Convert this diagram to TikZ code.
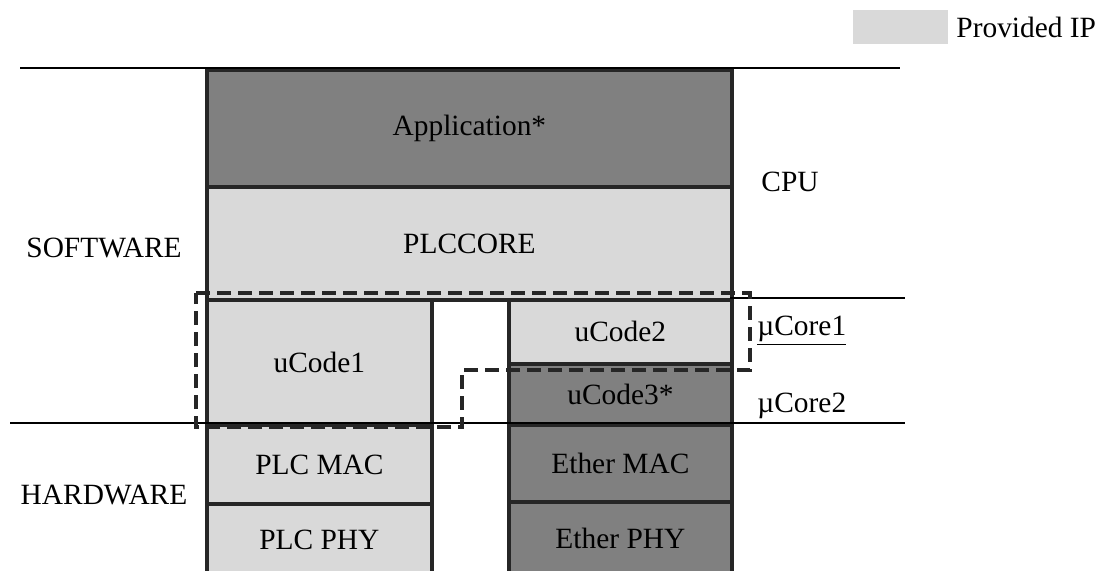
\documentclass[tikz,border=0pt]{standalone}
\usepackage{fontspec}
\setmainfont{Liberation Serif}
\definecolor{lightip}{HTML}{D9D9D9}
\definecolor{darkip}{HTML}{808080}
\definecolor{edge}{HTML}{262626}
\begin{document}
\begin{tikzpicture}[x=0.5pt,y=-0.5pt,
  blk/.style={draw=edge, line width=1.9pt, inner sep=0pt, anchor=north west,
    font=\fontsize{14.7}{16}\selectfont},
  lightblk/.style={blk, fill=lightip},
  darkblk/.style={blk, fill=darkip},
  lbl/.style={font=\fontsize{14.7}{16}\selectfont, inner sep=0pt},
  sep/.style={line width=0.7pt, draw=black},
  zone/.style={draw=edge, line width=1.8pt, dash pattern=on 7pt off 3.5pt}]
\useasboundingbox (0,0) rectangle (1111,570);
% legend
\node[fill=lightip, minimum width=47.5pt, minimum height=17pt, inner sep=0pt, anchor=north west] (legend) at (853,10) {};
\node[lbl, anchor=west] (legendtxt) at (956,27) {Provided IP};
% blocks
\node[darkblk, minimum width=262.5pt, minimum height=58.5pt] (app) at (205,68) {Application*};
\node[lightblk, minimum width=262.5pt, minimum height=56.5pt] (core) at (205,185) {PLCCORE};
\node[lightblk, minimum width=112.5pt, minimum height=62.5pt] (uc1) at (205,298) {uCode1};
\node[lightblk, minimum width=111.5pt, minimum height=32pt] (uc2) at (507,298) {uCode2};
\node[darkblk, minimum width=111.5pt, minimum height=30.5pt] (uc3) at (507,362) {uCode3*};
\node[lightblk, minimum width=112.5pt, minimum height=39.5pt] (pmac) at (205,423) {PLC MAC};
\node[lightblk, minimum width=112.5pt, minimum height=36pt] (pphy) at (205,502) {PLC PHY};
\node[darkblk, minimum width=111.5pt, minimum height=38.5pt] (emac) at (507,423) {Ether MAC};
\node[darkblk, minimum width=111.5pt, minimum height=37pt] (ephy) at (507,500) {Ether PHY};
% separator lines
\coordinate (t1) at (20,68); \coordinate (t2) at (900,68);
\coordinate (m1) at (730,298); \coordinate (m2) at (905,298);
\coordinate (b1) at (10,423); \coordinate (b2) at (905,423);
\draw[sep] (t1) -- (t2);
\draw[sep] (m1) -- (m2);
\draw[sep] (b1) -- (b2);
% labels
\node[lbl] (sw) at (104,248) {SOFTWARE};
\node[lbl] (hw) at (104,495) {HARDWARE};
\node[lbl] (cpu) at (790,182) {CPU};
\node[lbl, anchor=west] (mc1) at (757,331) {\underline{µCore1}};
\node[lbl, anchor=west] (mc2) at (757,406) {µCore2};
% dashed zone
\draw[zone] (196,293) -- (750,293) -- (750,370) -- (462,370) -- (462,427) -- (196,427) -- cycle;
\end{tikzpicture}
\end{document}
